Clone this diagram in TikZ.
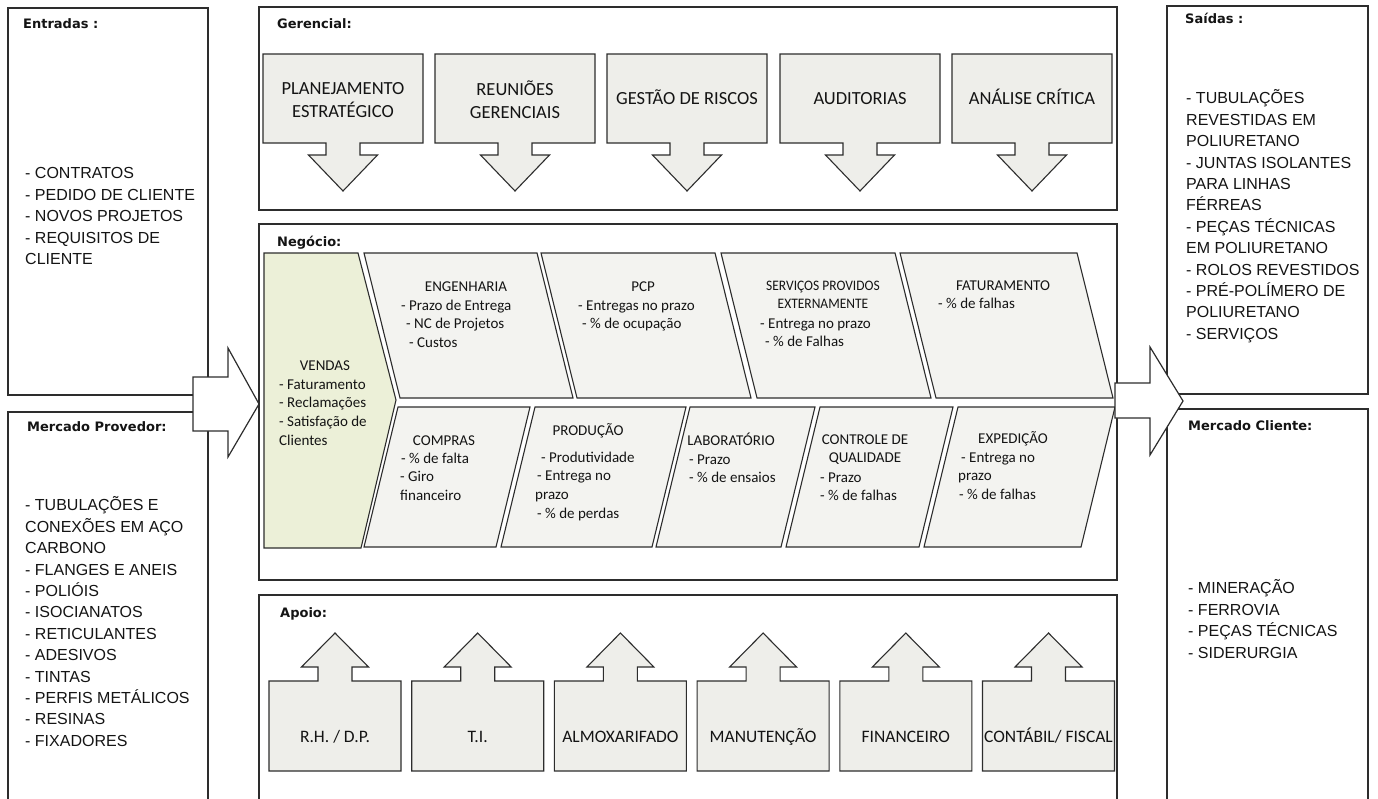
\documentclass[tikz,border=0pt]{standalone}
\usepackage{fontspec}
\setmainfont{Carlito}
\newfontfamily\listfont{Liberation Sans}
\newfontfamily\labelfont{DejaVu Sans}
\newfontfamily\condfont[FakeStretch=0.93]{Carlito}
\usepackage{xcolor}
\usepackage{tikz}

\definecolor{linegray}{RGB}{45,45,45}
\definecolor{textblack}{RGB}{20,20,20}
\definecolor{boxgray}{RGB}{238,238,234}
\definecolor{chevgray}{RGB}{243,243,240}
\definecolor{salesgreen}{RGB}{236,240,216}

\tikzset{
    section/.style={
        draw=linegray, line width=1.3pt
    },
    sec_label/.style={
        font=\labelfont\bfseries\fontsize{13}{15}\selectfont,
        anchor=base west, inner sep=0pt, text=textblack
    },
    list_text/.style={
        font=\listfont\fontsize{16}{21.4}\selectfont,
        align=left, anchor=north west, inner sep=0pt, text=textblack
    },
    callout/.style={
        draw=linegray, line width=1.1pt, fill=boxgray
    },
    ger_text/.style={
        font=\fontsize{18.5}{23}\selectfont, align=center, inner sep=0pt, text=textblack
    },
    apoio_text/.style={
        font=\fontsize{17.5}{20}\selectfont, anchor=base, inner sep=0pt, text=textblack
    },
    pics/down_callout/.style={code={
        \draw[callout] (-80,-44.5) -- (80,-44.5) -- (80,44.5) -- (17,44.5) -- (17,56.5)
            -- (34.5,56.5) -- (0,92.5) -- (-34.5,56.5) -- (-17,56.5) -- (-17,44.5)
            -- (-80,44.5) -- cycle;
    }},
    pics/up_callout/.style={code={
        \draw[callout] (-66,45) -- (66,45) -- (66,-45) -- (17,-45) -- (17,-59)
            -- (33.5,-59) -- (0,-93) -- (-33.5,-59) -- (-17,-59) -- (-17,-45)
            -- (-66,-45) -- cycle;
    }}
}

\begin{document}
\begin{tikzpicture}[
        x=1pt, y=-1pt,
        chevron/.style={draw=linegray, line width=1.1pt, fill=chevgray},
        sales_chevron/.style={chevron, fill=salesgreen},
        kpi_title/.style={font=\fontsize{15}{18.7}\selectfont, align=center, anchor=north, inner sep=0pt, text=textblack},
        kpi_body/.style={font=\fontsize{15}{18.7}\selectfont, align=left, anchor=north west, inner sep=0pt, text=textblack},
        big_arrow/.style={draw=linegray, line width=1.2pt, fill=white}
    ]

        \useasboundingbox (0,0) rectangle (1378,798);
        \clip (0,0) rectangle (1378,798);
        \fill[white] (0,0) rectangle (1378,798);

        % Side columns
        \draw[section] (8,8) rectangle (208,395);
        \draw[section] (8,412) rectangle (208,810);
        \draw[section] (1167,6) rectangle (1368,394);
        \draw[section] (1167,409) rectangle (1368,810);

        % Middle blocks
        \draw[section] (259,7) rectangle (1117,210);
        \draw[section] (259,224) rectangle (1117,580);
        \draw[section] (259,595) rectangle (1117,810);

        % Gerencial
        \pic at (343,98.5) {down_callout};
        \pic at (515,98.5) {down_callout};
        \pic at (687,98.5) {down_callout};
        \pic at (860,98.5) {down_callout};
        \pic at (1032,98.5) {down_callout};

        % Apoio
        \pic at (335,726) {up_callout};
        \pic at (477.7,726) {up_callout};
        \pic at (620.4,726) {up_callout};
        \pic at (763.1,726) {up_callout};
        \pic at (905.8,726) {up_callout};
        \pic at (1048.5,726) {up_callout};

        % Negocio - top row
        \draw[sales_chevron] (264,253) -- (358,253) -- (396,400) -- (361,548) -- (264,548) -- cycle;
        \draw[chevron] (364,253) -- (537,253) -- (573,398) -- (400,398) -- cycle;
        \draw[chevron] (541,253) -- (715,253) -- (751,398) -- (577,398) -- cycle;
        \draw[chevron] (721,253) -- (895,253) -- (931,398) -- (757,398) -- cycle;
        \draw[chevron] (900,253) -- (1077,253) -- (1113,398) -- (936,398) -- cycle;

        % Negocio - bottom row
        \draw[chevron] (398,407) -- (530,407) -- (496,547) -- (364,547) -- cycle;
        \draw[chevron] (535,407) -- (686,407) -- (652,547) -- (501,547) -- cycle;
        \draw[chevron] (690,407) -- (815,407) -- (781,547) -- (656,547) -- cycle;
        \draw[chevron] (820,407) -- (953,407) -- (919,547) -- (786,547) -- cycle;
        \draw[chevron] (958,407) -- (1115,407) -- (1081,547) -- (924,547) -- cycle;

        % Big arrows
        \draw[big_arrow] (193,377) -- (228,377) -- (228,348) -- (259,404) -- (228,457) -- (228,431) -- (193,431) -- cycle;
        \draw[big_arrow] (1115,383) -- (1150,383) -- (1150,347) -- (1183,401) -- (1150,455) -- (1150,418) -- (1115,418) -- cycle;

        % Section labels
        \node[sec_label] (lbl_entradas) at (23,28.4) {Entradas :};
        \node[sec_label] (lbl_provedor) at (27,431) {Mercado Provedor:};
        \node[sec_label] (lbl_saidas) at (1185,23.5) {Saídas :};
        \node[sec_label] (lbl_cliente) at (1188,430) {Mercado Cliente:};
        \node[sec_label] (lbl_gerencial) at (277,28) {Gerencial:};
        \node[sec_label] (lbl_negocio) at (277,246.5) {Negócio:};
        \node[sec_label] (lbl_apoio) at (280,617.5) {Apoio:};

        % Lists
        \node[list_text] (in_list) at (25,163.8) {\strut- CONTRATOS\\- PEDIDO DE CLIENTE\\- NOVOS PROJETOS\\- REQUISITOS DE\\CLIENTE};
        \node[list_text] (prov_list) at (25,495.8) {\strut- TUBULAÇÕES E\\CONEXÕES EM AÇO\\CARBONO\\- FLANGES E ANEIS\\- POLIÓIS\\- ISOCIANATOS\\- RETICULANTES\\- ADESIVOS\\- TINTAS\\- PERFIS METÁLICOS\\- RESINAS\\- FIXADORES};
        \node[list_text] (out_list) at (1186,88.8) {\strut- TUBULAÇÕES\\REVESTIDAS EM\\POLIURETANO\\- JUNTAS ISOLANTES\\PARA LINHAS\\FÉRREAS\\- PEÇAS TÉCNICAS\\EM POLIURETANO\\- ROLOS REVESTIDOS\\- PRÉ-POLÍMERO DE\\POLIURETANO\\- SERVIÇOS};
        \node[list_text] (client_list) at (1188,578.8) {\strut- MINERAÇÃO\\- FERROVIA\\- PEÇAS TÉCNICAS\\- SIDERURGIA};

        % Gerencial texts
        \node[ger_text] (ger_plan) at (343,100) {PLANEJAMENTO\\ESTRATÉGICO};
        \node[ger_text] (ger_reun) at (515,100) {REUNIÕES\\GERENCIAIS};
        \node[ger_text, anchor=base] (ger_risk) at (687,104) {GESTÃO DE RISCOS};
        \node[ger_text, anchor=base] (ger_audit) at (860,104) {AUDITORIAS};
        \node[ger_text, anchor=base] (ger_crit) at (1032,104) {ANÁLISE CRÍTICA};

        % Negocio texts
        \node[kpi_title] (vendas) at (325,356.8) {\strut VENDAS};
        \node[kpi_body] (vendas_kpi) at (279,375.8) {\strut- Faturamento\\- Reclamações\\- Satisfação de\\Clientes};
        \node[kpi_title] (eng) at (466,277.8) {\strut ENGENHARIA};
        \node[kpi_body] (eng_kpi) at (401,296.8) {\strut- Prazo de Entrega\\\hspace*{5pt}- NC de Projetos\\\hspace*{8pt}- Custos};
        \node[kpi_title] (pcp) at (643,277.8) {\strut PCP};
        \node[kpi_body] (pcp_kpi) at (578,296.8) {\strut- Entregas no prazo\\\hspace*{4pt}- \% de ocupação};
        \node[kpi_title, font=\condfont\fontsize{14.5}{18.7}\selectfont] (serv) at (823,276.8) {\strut SERVIÇOS PROVIDOS\\EXTERNAMENTE};
        \node[kpi_body] (serv_kpi) at (760,314.8) {\strut- Entrega no prazo\\\hspace*{5pt}- \% de Falhas};
        \node[kpi_title] (fat) at (1003,276.8) {\strut FATURAMENTO};
        \node[kpi_body] (fat_kpi) at (938,294.8) {\strut- \% de falhas};

        \node[kpi_title] (compras) at (444,431.8) {\strut COMPRAS};
        \node[kpi_body] (compras_kpi) at (400,449.8) {\strut\hspace*{1pt}- \% de falta\\- Giro\\financeiro};
        \node[kpi_title] (prod) at (588,421.8) {\strut PRODUÇÃO};
        \node[kpi_body] (prod_kpi) at (535,448.8) {\strut\hspace*{6pt}- Produtividade\\\hspace*{2pt}- Entrega no\\prazo\\\hspace*{2pt}- \% de perdas};
        \node[kpi_title] (lab) at (731,431.8) {\strut LABORATÓRIO};
        \node[kpi_body] (lab_kpi) at (689,450.8) {\strut- Prazo\\- \% de ensaios};
        \node[kpi_title] (cq) at (865,430.8) {\strut CONTROLE DE\\QUALIDADE};
        \node[kpi_body] (cq_kpi) at (820,468.8) {\strut- Prazo\\- \% de falhas};
        \node[kpi_title] (exp) at (1013,429.8) {\strut EXPEDIÇÃO};
        \node[kpi_body] (exp_kpi) at (958,448.8) {\strut\hspace*{3pt}- Entrega no\\prazo\\\hspace*{1pt}- \% de falhas};

        % Apoio texts
        \node[apoio_text] (ap_rh) at (335,742.5) {R.H. / D.P.};
        \node[apoio_text] (ap_ti) at (477.7,742.5) {T.I.};
        \node[apoio_text] (ap_almox) at (620.4,742.5) {ALMOXARIFADO};
        \node[apoio_text] (ap_manut) at (763.1,742.5) {MANUTENÇÃO};
        \node[apoio_text] (ap_fin) at (905.8,742.5) {FINANCEIRO};
        \node[apoio_text] (ap_cont) at (1048.5,742.5) {CONTÁBIL/ FISCAL};

\end{tikzpicture}
\end{document}
